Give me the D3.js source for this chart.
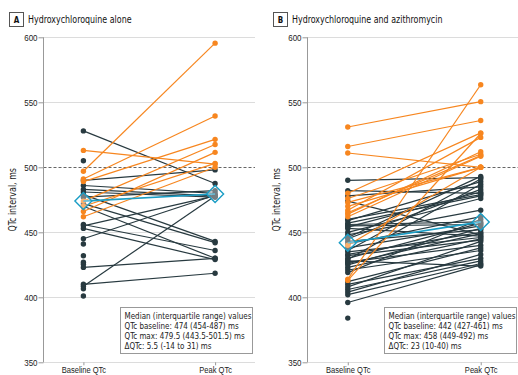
<!DOCTYPE html>
<html>
<head>
<meta charset="utf-8">
<script src="https://cdn.jsdelivr.net/npm/d3@7/dist/d3.min.js"></script>
<style>
  body { margin: 0; background: #fff; }
  svg { display: block; font-family: "Liberation Sans Narrow", "DejaVu Sans Condensed", "Roboto", sans-serif; }
</style>
</head>
<body>
<svg id="chart" width="518" height="375"></svg>
<script>
// categories and tick labels
const timepoints = ['Baseline QTc', 'Peak QTc'];
const yTicks = [350, 400, 450, 500, 550, 600];

// panel A: hydroxychloroquine alone (null = no peak value)
const aBaseline = [528, 513, 505, 497, 491, 489, 490, 483, 481, 479, 477, 474, 472, 470, 466, 462, 456, 455, 453, 445, 441, 432, 427, 425.5, 423, 410, 408.5, 406.5, 401, 486, 470];
const aPeak     = [487.5, 502.5, null, 595.5, 539.5, 521.5, 498, 478, 477, 443, 482, 517.5, 442, 430, 511.5, 500, 436, 478, 429, 478.5, null, null, null, null, 430, 418.5, 478, null, null, 480, 503];

// panel B: hydroxychloroquine and azithromycin
const bBaseline = [531, 516, 511, 480, 476, 414, 467, 465, 462, 440, 413, 470, 464, 490, 482, 478, 474, 459, 457, 456, 455, 454, 453, 450, 448, 445, 443, 441, 438, 436, 433, 432, 430, 429, 427, 426, 425, 423, 421, 419, 412, 410, 408, 406, 404, 402, 396, 384, 460, 446, 435, 428, 473];
const bPeak     = [550.5, 536, 500, 526.5, 510, 563.5, 523, 509, 508.5, 500, 526, 500, 512, 492, 480, 485, 448, 489, 478, 458, 456, 481, 447, 476, 467, 483, 452, 462, 455, 491, 450, 444, 457, 487, 440, 449, 453, 445, 436, 460, 438, 430, 443, 428, 433, 426, 425, null, 479, 493, 446, 424, 500];

// medians
const aMedian = [474, 479.5];
const bMedian = [442, 458];

const panels = [
  { letter: 'A', title: 'Hydroxychloroquine alone', left: 0, axisX: 43.5, right: 255, boxW: 132,
    baseline: aBaseline, peak: aPeak, median: aMedian,
    legend: ['Median (interquartile range) values', 'QTc baseline: 474 (454-487) ms', 'QTc max: 479.5 (443.5-501.5) ms', '\u0394QTc: 5.5 (-14 to 31) ms'] },
  { letter: 'B', title: 'Hydroxychloroquine and azithromycin', left: 264, axisX: 307.5, right: 521, boxW: 132,
    baseline: bBaseline, peak: bPeak, median: bMedian,
    legend: ['Median (interquartile range) values', 'QTc baseline: 442 (427-461) ms', 'QTc max: 458 (449-492) ms', '\u0394QTc: 23 (10-40) ms'] }
];

const orange = '#f7861f', dark = '#283a40', teal = '#1a9dc5', grid = '#dcdcdc', textCol = '#222';

const svg = d3.select('#chart');
const y = d3.scaleLinear().domain([350, 600]).range([362.3, 37.3]);

panels.forEach(p => {
  const g = svg.append('g');
  const x = d3.scalePoint().domain(timepoints).range([p.axisX, p.right]).padding(0.303);

  // title
  const tx = p.left + 9.5;
  g.append('rect').attr('x', tx).attr('y', 12.5).attr('width', 14).attr('height', 14)
    .attr('fill', '#fff').attr('stroke', '#555').attr('stroke-width', 1);
  g.append('text').attr('x', tx + 7).attr('y', 23).attr('text-anchor', 'middle')
    .attr('font-size', 9.5).attr('font-weight', 'bold').attr('fill', '#111').text(p.letter);
  g.append('text').attr('x', tx + 18.5).attr('y', 23.5)
    .attr('font-size', 10.5).attr('fill', '#111').text(p.title);

  // grid
  g.selectAll('.grid').data(yTicks.filter(t => t !== 500)).enter().append('line')
    .attr('x1', p.axisX).attr('x2', p.right)
    .attr('y1', d => Math.round(y(d)) + 0.5).attr('y2', d => Math.round(y(d)) + 0.5)
    .attr('stroke', grid).attr('stroke-width', 1);
  g.append('line').attr('x1', p.axisX).attr('x2', p.right)
    .attr('y1', Math.round(y(500)) + 0.5).attr('y2', Math.round(y(500)) + 0.5)
    .attr('stroke', '#666').attr('stroke-dasharray', '3,2');

  // y axis
  const ya = g.append('g').attr('transform', `translate(${p.axisX},0)`)
    .call(d3.axisLeft(y).tickValues(yTicks).tickSize(5).tickPadding(1));
  ya.select('.domain').attr('stroke', '#999').attr('d', `M0,${y(600)}V${y(350)}`);
  ya.selectAll('.tick line').attr('stroke', '#999');
  ya.selectAll('.tick text').attr('font-size', 9.5).attr('fill', textCol)
    .attr('font-family', 'inherit');

  g.append('text').attr('transform', `translate(${p.axisX - 28},${y(475)}) rotate(-90)`)
    .attr('text-anchor', 'middle').attr('font-size', 10.5).attr('fill', textCol)
    .text('QTc interval, ms');

  // x axis ticks and labels (kept inside the bottom edge)
  const xa = g.append('g').attr('transform', `translate(0,${y(350)})`)
    .call(d3.axisBottom(x).tickSize(3).tickPadding(1.5));
  xa.select('.domain').remove();
  xa.selectAll('.tick line').attr('stroke', '#999');
  xa.selectAll('.tick text').attr('font-size', 9).attr('fill', textCol)
    .attr('font-family', 'inherit');

  // patient lines
  const rows = p.baseline.map((b, i) => ({ b, k: p.peak[i] }));
  const col = d => (d.k !== null && d.k >= 500) ? orange : dark;
  const paired = rows.filter(d => d.k !== null);
  const order = paired.filter(d => col(d) === dark).concat(paired.filter(d => col(d) === orange));
  g.selectAll('.pl').data(order).enter().append('line')
    .attr('x1', x(timepoints[0])).attr('x2', x(timepoints[1]))
    .attr('y1', d => y(d.b)).attr('y2', d => y(d.k))
    .attr('stroke', col).attr('stroke-width', 1.2);

  const dots = [];
  rows.forEach(d => {
    dots.push({ t: timepoints[0], v: d.b, c: col(d) });
    if (d.k !== null) dots.push({ t: timepoints[1], v: d.k, c: col(d) });
  });
  dots.sort((a, b) => (a.c === orange) - (b.c === orange));
  g.selectAll('.dot').data(dots).enter().append('circle')
    .attr('cx', d => x(d.t)).attr('cy', d => y(d.v)).attr('r', 2.7)
    .attr('fill', d => d.c);

  // medians
  g.append('line').attr('x1', x(timepoints[0])).attr('x2', x(timepoints[1]))
    .attr('y1', y(p.median[0])).attr('y2', y(p.median[1]))
    .attr('stroke', teal).attr('stroke-width', 1.6);
  g.selectAll('.med').data(p.median).enter().append('path')
    .attr('transform', (d, i) => `translate(${x(timepoints[i])},${y(d)})`)
    .attr('d', 'M0,-8.5L8.5,0L0,8.5L-8.5,0Z')
    .attr('fill', '#fff').attr('fill-opacity', 0.35)
    .attr('stroke', teal).attr('stroke-width', 1.4);

  // legend box
  const lx = p.axisX + 77;
  const lg = g.append('g').attr('transform', `translate(${lx},307.5)`);
  lg.append('rect').attr('width', p.boxW).attr('height', 46)
    .attr('fill', '#fff').attr('stroke', '#999').attr('stroke-width', 1);
  lg.selectAll('text').data(p.legend).enter().append('text')
    .attr('x', 4).attr('y', (d, i) => 11.5 + i * 10)
    .attr('font-size', 9.5).attr('fill', textCol)
    .text(d => d);
});

// squeeze all text horizontally around its anchor so the installed font looks like the narrow journal face
const squeeze = 0.84;
svg.selectAll('text').each(function () {
  const t = d3.select(this);
  const ax = +t.attr('x') || 0;
  const prev = t.attr('transform') || '';
  t.attr('transform', `${prev} translate(${ax},0) scale(${squeeze},1) translate(${-ax},0)`);
});
</script>
</body>
</html>
